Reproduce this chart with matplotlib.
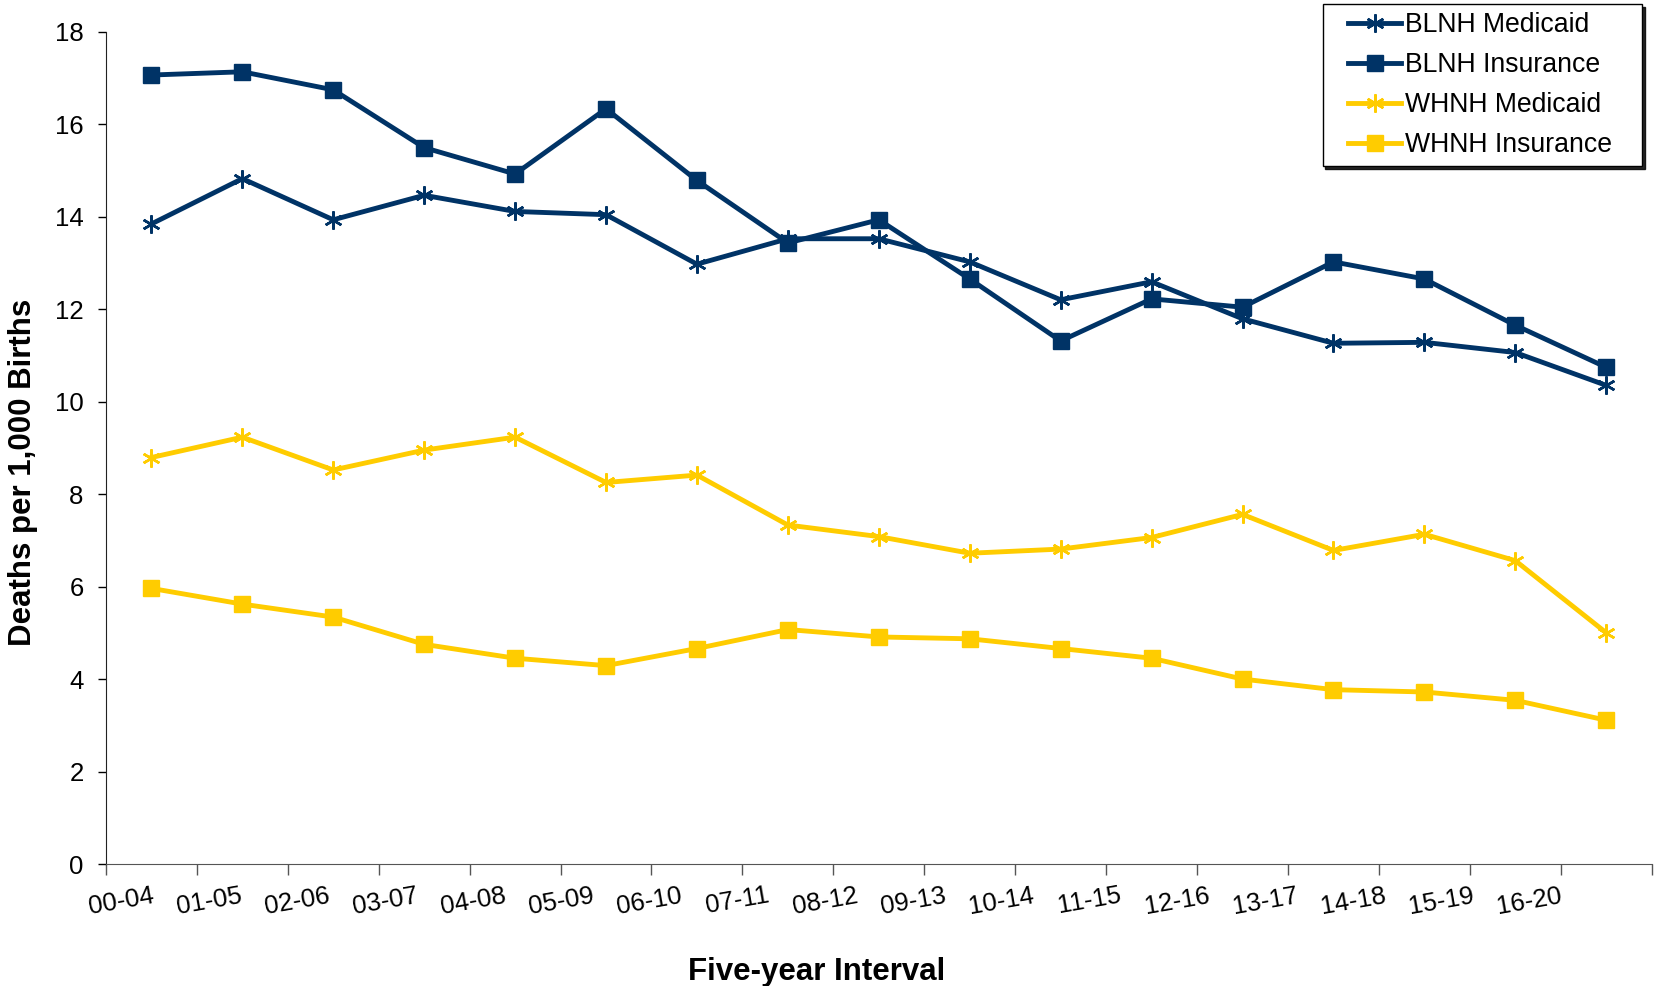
import matplotlib
matplotlib.use('Agg')
import matplotlib.pyplot as plt
import matplotlib.transforms as mtransforms
from matplotlib.lines import Line2D
from matplotlib.legend_handler import HandlerLine2D

# Data
intervals = ['00-04', '01-05', '02-06', '03-07', '04-08', '05-09', '06-10', '07-11', '08-12',
             '09-13', '10-14', '11-15', '12-16', '13-17', '14-18', '15-19', '16-20']
blnh_medicaid = [13.84, 14.82, 13.93, 14.46, 14.11, 14.04, 12.97, 13.52, 13.52,
                 13.02, 12.20, 12.59, 11.79, 11.26, 11.28, 11.06, 10.35]
blnh_insurance = [17.06, 17.13, 16.74, 15.49, 14.92, 16.33, 14.78, 13.43, 13.93,
                  12.65, 11.31, 12.22, 12.04, 13.02, 12.65, 11.65, 10.74]
whnh_medicaid = [8.79, 9.23, 8.52, 8.95, 9.23, 8.25, 8.41, 7.33, 7.08,
                 6.72, 6.81, 7.06, 7.56, 6.78, 7.13, 6.56, 5.00]
whnh_insurance = [5.96, 5.62, 5.34, 4.75, 4.45, 4.29, 4.66, 5.07, 4.91,
                  4.87, 4.66, 4.45, 4.00, 3.77, 3.72, 3.54, 3.11]

navy = '#003366'
gold = '#FFCC00'

plt.rcParams['font.family'] = ['Liberation Sans', 'DejaVu Sans']

fig = plt.figure(figsize=(16.55, 9.86), dpi=100)
ax = fig.add_axes([0.064, 0.1237, 0.934, 0.8443])

x = list(range(len(intervals)))
asterisk = (6, 2, 0)

# trailing spaces give the legend box its right-hand padding
ax.plot(x, blnh_medicaid, color=navy, lw=3.5, marker=asterisk, ms=13, mew=1.8, label='BLNH Medicaid   ')
ax.plot(x, blnh_insurance, color=navy, lw=3.5, marker='s', ms=12, label='BLNH Insurance   ')
ax.plot(x, whnh_medicaid, color=gold, lw=3.5, marker=asterisk, ms=13, mew=1.8, label='WHNH Medicaid   ')
ax.plot(x, whnh_insurance, color=gold, lw=3.5, marker='s', ms=12, label='WHNH Insurance   ')

ax.set_ylim(0, 18)
ax.set_yticks(range(0, 19, 2))
ax.set_xlim(-0.5, len(intervals) - 0.5)

ax.spines['top'].set_visible(False)
ax.spines['right'].set_visible(False)
ax.spines['left'].set_color('#222222')
ax.spines['bottom'].set_color('#555555')

# category boundaries get tick marks, labels sit at centres
ax.set_xticks([i - 0.5 for i in range(len(intervals) + 1)], minor=True)
ax.set_xticks(x)
ax.set_xticklabels(intervals, rotation=10, ha='right', rotation_mode='anchor')
ax.tick_params(axis='x', which='major', length=0, pad=14, labelsize=18.5)
ax.tick_params(axis='x', which='minor', length=8, width=1, color='#555555')
ax.tick_params(axis='y', length=6, width=1, pad=10, labelsize=18.5)

# Excel-style drift of the rotated labels
for i, lbl in enumerate(ax.get_xticklabels()):
    dx = -0.0294 * i
    lbl.set_transform(lbl.get_transform() + mtransforms.ScaledTranslation(dx, 0, fig.dpi_scale_trans))

ax.set_ylabel('Deaths per 1,000 Births', fontsize=22.5, fontweight='bold')
ax.yaxis.set_label_coords(-0.044, 0.47)
ax.set_xlabel('Five-year Interval', fontsize=22.5, fontweight='bold')
ax.xaxis.set_label_coords(0.46, -0.112)

leg = ax.legend(loc='upper right', bbox_to_anchor=(0.994, 1.033), borderaxespad=0, fontsize=19.2,
                frameon=True, fancybox=False, shadow={'color': 'black', 'alpha': 0.85},
                handlelength=2.65, handletextpad=0.15, labelspacing=0.53, borderpad=0.3,
                handler_map={Line2D: HandlerLine2D(xpad=0.65)})
leg.get_frame().set_edgecolor('black')
leg.get_frame().set_linewidth(1)

fig.savefig('out.png', dpi=100)
